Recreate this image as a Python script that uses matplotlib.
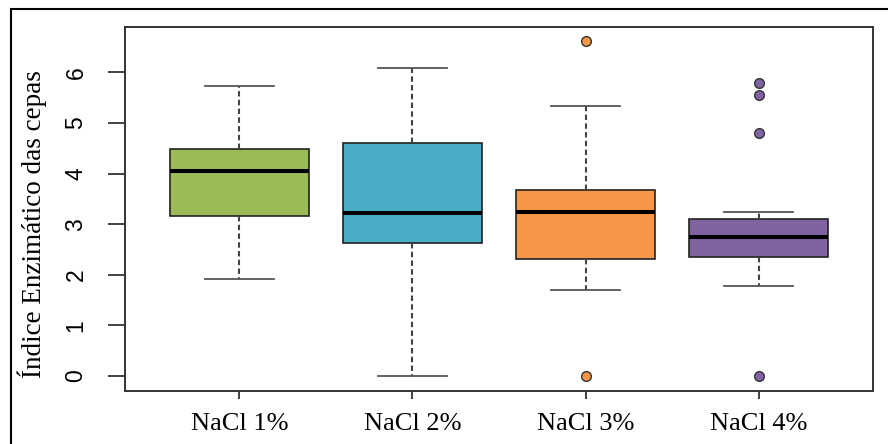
import matplotlib
matplotlib.use('Agg')
import matplotlib.pyplot as plt
from matplotlib.patches import Rectangle

# Dados (Índice Enzimático por concentração de NaCl)
categorias = ['NaCl 1%', 'NaCl 2%', 'NaCl 3%', 'NaCl 4%']
bigode_inf = [1.91, 0.0, 1.70, 1.77]
quartil1 = [3.16, 2.62, 2.31, 2.36]
mediana = [4.045, 3.215, 3.24, 2.75]
quartil3 = [4.48, 4.61, 3.675, 3.10]
bigode_sup = [5.74, 6.08, 5.34, 3.235]
outliers = [[], [], [0.0, 6.62], [0.0, 4.80, 5.55, 5.785]]
cores = ['#9BBB59', '#4BACC6', '#F79646', '#8064A2']
yticks = [0, 1, 2, 3, 4, 5, 6]

stats = []
for i in range(len(categorias)):
    stats.append({
        'label': categorias[i],
        'whislo': bigode_inf[i],
        'q1': quartil1[i],
        'med': mediana[i],
        'q3': quartil3[i],
        'whishi': bigode_sup[i],
        'fliers': outliers[i],
    })

fig = plt.figure(figsize=(8.88, 4.44), dpi=100)
ax = fig.add_axes([125 / 888, 1 - 390.5 / 444, 748 / 888, 363.5 / 444])

bp = ax.bxp(stats, positions=[1, 2, 3, 4], widths=0.8, capwidths=0.4,
            patch_artist=True, showfliers=True,
            boxprops=dict(edgecolor='#222222', linewidth=1.2),
            medianprops=dict(color='black', linewidth=2.9, solid_capstyle='butt'),
            whiskerprops=dict(color='#444444', linewidth=1.5, linestyle=(0, (2.6, 1.6))),
            capprops=dict(color='#555555', linewidth=1.3))

for caixa, cor in zip(bp['boxes'], cores):
    caixa.set_facecolor(cor)
for fl, cor in zip(bp['fliers'], cores):
    fl.set_marker('o')
    fl.set_markerfacecolor(cor)
    fl.set_markeredgecolor('#333333')
    fl.set_markeredgewidth(1.0)
    fl.set_markersize(7)

ax.set_xlim(0.34, 4.66)
ax.set_ylim(-0.287, 6.897)

for s in ax.spines.values():
    s.set_color('#333333')
    s.set_linewidth(1.4)

ax.set_yticks(yticks)
ax.set_yticklabels([str(v) for v in yticks], family='Liberation Sans', fontsize=16.5)
plt.setp(ax.get_yticklabels(), rotation=90, va='center')
ax.tick_params(axis='y', length=12, width=1.3, color='#333333', pad=15)

ax.set_xticks([1, 2, 3, 4])
ax.set_xticklabels(categorias, family='Liberation Serif', fontsize=19)
ax.tick_params(axis='x', length=6, width=1.3, color='#333333', pad=10)

fig.text(32 / 888, 1 - 224 / 444, 'Índice Enzimático das cepas', rotation=90,
         ha='center', va='center', family='Liberation Serif', fontsize=19.5)

# moldura externa
moldura = Rectangle((11 / 888, -0.1), 1.0, 1 - 9.3 / 444 + 0.1,
                    transform=fig.transFigure, fill=False,
                    edgecolor='black', linewidth=1.5, clip_on=False)
fig.patches.append(moldura)

fig.savefig('out.png', dpi=100)
